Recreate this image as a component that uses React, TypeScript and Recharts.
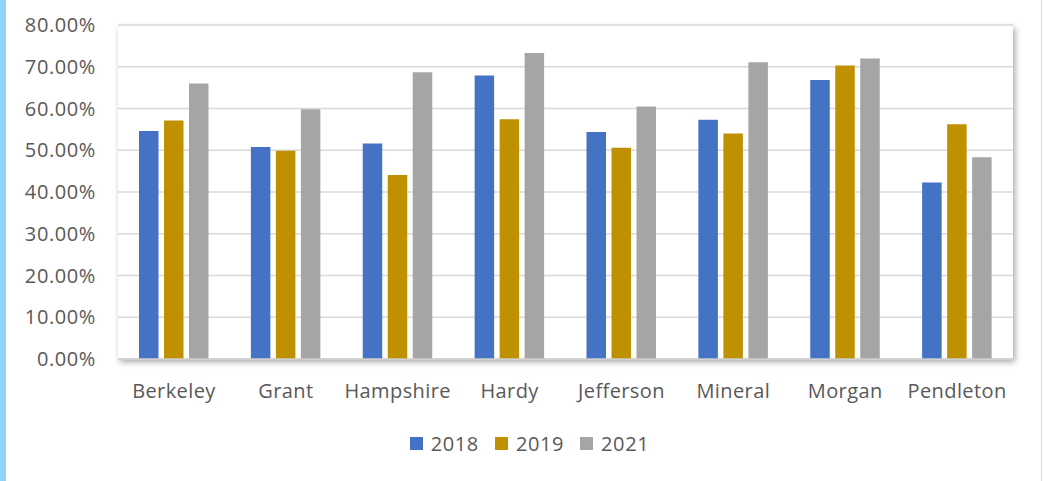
import React from "react";
import { BarChart, Bar, XAxis, YAxis, CartesianGrid, Legend } from "recharts";

const counties = ["Berkeley", "Grant", "Hampshire", "Hardy", "Jefferson", "Mineral", "Morgan", "Pendleton"];
const values2018 = [54.6, 50.8, 51.6, 67.9, 54.4, 57.3, 66.8, 42.3];
const values2019 = [57.1, 49.9, 44.1, 57.4, 50.6, 54.0, 70.3, 56.2];
const values2021 = [66.0, 59.8, 68.7, 73.3, 60.5, 71.1, 72.0, 48.3];
const yTicks = [0, 10, 20, 30, 40, 50, 60, 70, 80];

const seriesNames = ["2018", "2019", "2021"];
const seriesColors = ["#4472C4", "#BF9000", "#A5A5A5"];

const data = counties.map((c, i) => ({
  county: c,
  "2018": values2018[i],
  "2019": values2019[i],
  "2021": values2021[i],
}));

const FONT = "'Open Sans', 'Segoe UI', sans-serif";
const TEXT = "#595959";

const LegendContent = (props: any) => {
  const payload = props.payload || [];
  return (
    <div style={{ display: "flex", justifyContent: "center", alignItems: "center", fontFamily: FONT, fontSize: 20, letterSpacing: 0.6, color: TEXT, paddingTop: 5, paddingLeft: 46 }}>
      {payload.map((p: any, i: number) => (
        <div key={i} style={{ display: "flex", alignItems: "center", marginRight: i < payload.length - 1 ? 16 : 0 }}>
          <span style={{ display: "inline-block", width: 13, height: 13, background: p.color, marginRight: 8 }} />
          <span>{p.value}</span>
        </div>
      ))}
    </div>
  );
};

export default function App() {
  return (
    <div style={{ position: "absolute", left: 0, top: 0, width: 1043, height: 481, background: "#fff", overflow: "hidden" }}>
      <style>{`.recharts-cartesian-grid-bg { filter: drop-shadow(2px 3px 3px rgba(0,0,0,0.35)); }`}</style>
      <div style={{ position: "absolute", left: 0, top: 0, width: 6, height: 481, background: "#8FD3FE" }} />
      <div style={{ position: "absolute", left: 1041, top: 0, width: 1, height: 481, background: "#dcdcdc" }} />
      <BarChart
        width={1043}
        height={481}
        data={data}
        margin={{ top: 25, right: 30, left: 0, bottom: 0 }}
        barGap={5.5}
        barSize={19.5}
      >
        <CartesianGrid vertical={false} stroke="#d9d9d9" strokeWidth={1.5} fill="#ffffff" />
        <XAxis
          dataKey="county"
          axisLine={{ stroke: "#cfcfcf", strokeWidth: 1.5 }}
          tickLine={false}
          tickSize={0}
          tickMargin={25}
          height={66}
          interval={0}
          tick={{ fill: TEXT, fontSize: 20, fontFamily: FONT, letterSpacing: 0.4 }}
        />
        <YAxis
          domain={[0, 80]}
          ticks={yTicks}
          width={118}
          axisLine={false}
          tickLine={false}
          tickSize={0}
          tickMargin={22}
          interval={0}
          tickFormatter={(v: number) => `${v.toFixed(2)}%`}
          tick={{ fill: TEXT, fontSize: 20, fontFamily: FONT, letterSpacing: 0.6 }}
        />
        <Legend verticalAlign="bottom" height={56} content={<LegendContent />} />
        {seriesNames.map((s, i) => (
          <Bar key={s} dataKey={s} name={s} fill={seriesColors[i]} isAnimationActive={false} />
        ))}
      </BarChart>
    </div>
  );
}
